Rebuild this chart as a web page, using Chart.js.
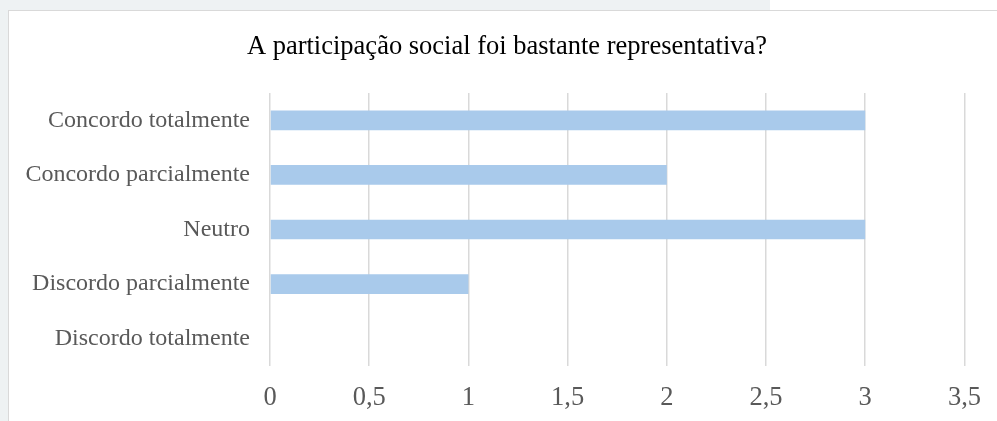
<!DOCTYPE html>
<html>
<head>
<meta charset="utf-8">
<script src="https://cdn.jsdelivr.net/npm/chart.js@4.4.0/dist/chart.umd.min.js"></script>
<style>
  html, body { margin: 0; padding: 0; background: #eef2f3; width: 997px; height: 421px; overflow: hidden; }
  #faixa { position: absolute; left: 770px; top: 0; width: 240px; height: 10px; background: #ffffff; }
  #caixa { position: absolute; left: 8px; top: 10px; width: 1000px; height: 420px; background: #ffffff; border: 1px solid #d9d9d9; }
  #grafico { position: absolute; left: 0; top: 0; }
</style>
</head>
<body>
<div id="faixa"></div>
<div id="caixa"></div>
<canvas id="grafico" width="997" height="421"></canvas>
<script>
// Dados do gráfico
const categorias = [
  "Concordo totalmente",
  "Concordo parcialmente",
  "Neutro",
  "Discordo parcialmente",
  "Discordo totalmente",
];
const respostas = [3, 2, 3, 1, 0];
const titulo = "A participação social foi bastante representativa?";

// Título desenhado à mão (centrado como no original, não no canvas)
const tituloPlugin = {
  id: "tituloCentrado",
  afterDraw(chart) {
    const c = chart.ctx;
    c.save();
    c.font = "26.5px 'Liberation Serif'";
    c.fillStyle = "#000000";
    c.textAlign = "center";
    c.textBaseline = "middle";
    c.fillText(titulo, 507, 47);
    c.restore();
  },
};

document.addEventListener("DOMContentLoaded", () => {
  const ctx = document.getElementById("grafico");
  new Chart(ctx, {
    type: "bar",
    data: {
      labels: categorias,
      datasets: [
        {
          data: respostas,
          backgroundColor: "#a9caeb",
          categoryPercentage: 1,
          barPercentage: 0.36,
        },
      ],
    },
    plugins: [tituloPlugin],
    options: {
      indexAxis: "y",
      responsive: false,
      animation: false,
      layout: { padding: { left: 0, right: 32, top: 93, bottom: 0 } },
      plugins: {
        legend: { display: false },
        tooltip: { enabled: false },
        title: { display: false },
      },
      scales: {
        x: {
          min: 0,
          max: 3.5,
          ticks: {
            stepSize: 0.5,
            color: "#595959",
            font: { family: "Liberation Serif", size: 26.5 },
            padding: 16,
            callback: (v) => String(v).replace(".", ","),
          },
          grid: { color: "#d9d9d9", lineWidth: 1.5, drawTicks: false },
          border: { display: false },
          afterFit: (s) => { s.height = 55; },
        },
        y: {
          ticks: {
            color: "#595959",
            font: { family: "Liberation Serif", size: 24 },
            padding: 20,
          },
          grid: { display: false, drawTicks: false },
          border: { display: false },
          afterFit: (s) => { s.width = 270; },
        },
      },
    },
  });
});
</script>
</body>
</html>
